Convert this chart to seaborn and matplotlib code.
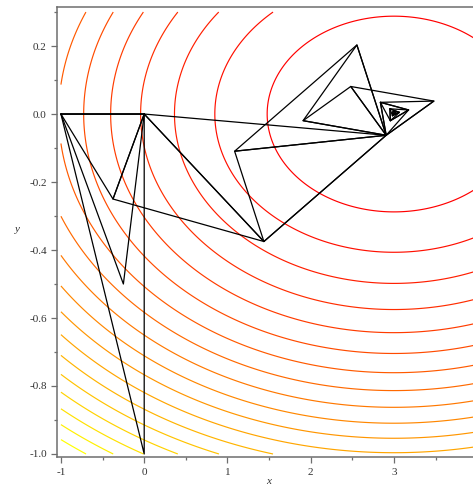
import numpy as np
import pandas as pd
import matplotlib
matplotlib.use("Agg")
import matplotlib.pyplot as plt
import seaborn as sns

# ---- contour field: f(x, y) = (x - cx)^2 + wy * (y - cy)^2 ----
field_center = (3.0, 0.0)
field_y_weight = 28.0
field_x_range = (-1.0, 4.0)
field_y_range = (-1.0, 0.3)
contour_levels = [2.32, 4.63, 6.95, 9.26, 11.58, 13.89, 16.21, 18.53, 20.84,
                  23.16, 25.47, 27.79, 30.11, 32.42, 34.74, 37.05, 39.37, 41.68]

# ---- Nelder-Mead simplex vertices ----
vertex_names = ["A", "B", "C", "D", "E", "F", "G", "H", "I", "J", "K",
                "L", "N", "P", "Q", "S", "T", "U", "V", "W", "X"]
vertex_x = [-1.0, 0.0, 0.0, -0.25, -0.375, 1.4375, 2.90625, 1.08594, 2.55469,
            1.90820, 2.48096, 3.47900, 2.83679, 3.17526, 2.95614, 2.95125,
            3.06448, 2.98200, 2.98724, 3.02455, 2.99526]
vertex_y = [0.0, 0.0, -1.0, -0.5, -0.25, -0.375, -0.0625, -0.10938, 0.20313,
            -0.01953, 0.08105, 0.03809, 0.03442, 0.01202, -0.01964, 0.01531,
            0.00493, -0.00476, 0.00770, 0.00320, 0.00346]
simplices = ["ABC", "ABD", "ABE", "BEF", "BFG", "FGH", "GHI", "GIJ", "GJK",
             "GKL", "GLN", "GNP", "NPQ", "PQS", "QST", "STU", "TUV", "UVW", "UWX"]

# ---- ticks ----
x_ticks = [-1, 0, 1, 2, 3]
x_tick_labels = ["-1", "0", "1", "2", "3"]
y_ticks = [0.2, 0.0, -0.2, -0.4, -0.6, -0.8, -1.0]
y_tick_labels = ["0.2", "0.0", "-0.2", "-0.4", "-0.6", "-0.8", "-1.0"]

sns.set_style("ticks")
plt.rcParams["font.family"] = ["Liberation Serif", "DejaVu Serif"]

fig = plt.figure(figsize=(4.73, 4.86), dpi=100)
ax = fig.add_axes([0.1211, 0.0591, 0.8956, 0.9259])

# contours
gx = np.linspace(field_x_range[0], field_x_range[1], 400)
gy = np.linspace(field_y_range[0], field_y_range[1], 300)
XX, YY = np.meshgrid(gx, gy)
ZZ = (XX - field_center[0]) ** 2 + field_y_weight * (YY - field_center[1]) ** 2
n = len(contour_levels)
level_colors = [(1.0, k / (n - 1), 0.0) for k in range(n)]
ax.contour(XX, YY, ZZ, levels=contour_levels, colors=level_colors, linewidths=0.85)

# simplex triangles
lookup = {nm: (vx, vy) for nm, vx, vy in zip(vertex_names, vertex_x, vertex_y)}
rows = []
for i, tri in enumerate(simplices):
    for order, nm in enumerate(tri + tri[0]):
        rows.append({"tri": i, "order": order, "x": lookup[nm][0], "y": lookup[nm][1]})
df = pd.DataFrame(rows)
sns.lineplot(data=df, x="x", y="y", units="tri", estimator=None, sort=False,
             color="black", linewidth=0.9, ax=ax, legend=False)

ax.set_xlim(-1.044, 4.044)
ax.set_ylim(-1.0097, 0.314)

ax.set_xticks(x_ticks)
ax.set_xticklabels(x_tick_labels)
ax.set_yticks(y_ticks)
ax.set_yticklabels(y_tick_labels)
ax.set_xticks(np.arange(-0.5, 4.0, 1.0), minor=True)
ax.set_yticks(np.arange(-0.9, 0.31, 0.2), minor=True)

spine_col = "#6e6e6e"
for side in ["left", "bottom", "top"]:
    ax.spines[side].set_visible(True)
    ax.spines[side].set_color(spine_col)
    ax.spines[side].set_linewidth(1.1)
ax.spines["right"].set_visible(False)

ax.tick_params(axis="both", which="major", length=4.5, width=0.9, color=spine_col,
               labelsize=8, labelcolor="#333333", pad=3)
ax.tick_params(axis="both", which="minor", length=2.5, width=0.9, color=spine_col)
ax.tick_params(top=False, right=False, which="both")

ax.set_xlabel("x", fontsize=8, fontstyle="italic", color="#333333")
ax.set_ylabel("y", fontsize=8, fontstyle="italic", color="#333333", rotation=0)
ax.yaxis.set_label_coords(-0.095, 0.496)
ax.xaxis.set_label_coords(0.5, -0.0585)
ax.xaxis.label.set_va("baseline")

fig.savefig("out.png", dpi=100)
